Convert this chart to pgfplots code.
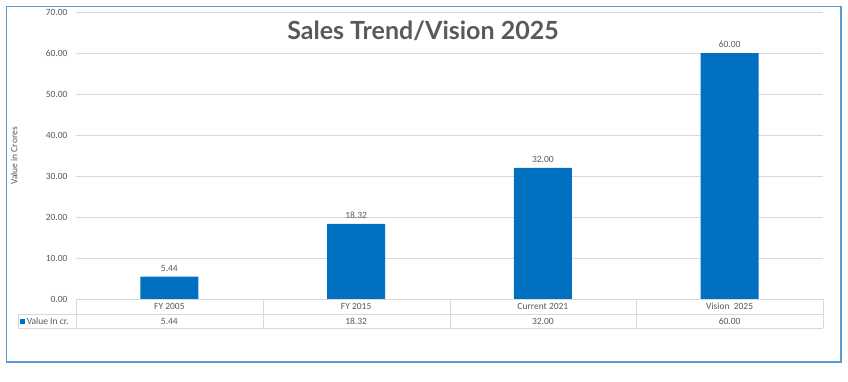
\documentclass[border=0pt]{standalone}
\usepackage{pgfplots}
\pgfplotsset{compat=1.18}
\usepackage{fontspec}
\setmainfont{Carlito}
\newfontfamily\titlefont{Lato}
\definecolor{barblue}{HTML}{0070C0}
\definecolor{frameblue}{HTML}{5B9BD5}
\definecolor{gridgray}{HTML}{D9D9D9}
\definecolor{txtgray}{HTML}{595959}
\newcommand{\sm}{\fontsize{9.5}{11}\selectfont}
\begin{document}
\begin{tikzpicture}[x=1pt,y=1pt]
\path[use as bounding box] (0,0) rectangle (848,381);
\draw[frameblue, line width=1.5pt] (6.5,374.5) rectangle (841,19);
\begin{axis}[
  at={(76pt,82pt)}, anchor=south west,
  scale only axis, width=747pt, height=287pt,
  xmin=-0.5, xmax=3.5, ymin=0, ymax=70,
  ytick={0,10,...,70},
  xtick={0,1,2,3},
  xticklabels={FY 2005, FY 2015, Current 2021, Vision\ \ 2025},
  xticklabel style={anchor=center, yshift=-7.5pt, font=\sm, text=txtgray},
  yticklabel style={font=\sm, text=txtgray, xshift=-5pt},
  /pgf/number format/assume math mode=true,
  yticklabel={\pgfmathprintnumber[fixed,fixed zerofill,precision=2]{\tick}},
  major tick length=0pt,
  axis line style={draw=none},
  ymajorgrids, grid style={gridgray, line width=0.8pt},
  clip=false,
]
\addplot[ybar, bar width=58pt, fill=barblue, draw=none,
  nodes near coords={\pgfmathprintnumber[fixed,fixed zerofill,precision=2,assume math mode=true]{\pgfplotspointmeta}},
  every node near coord/.append style={yshift=2pt, font=\sm, text=txtgray}]
  coordinates {(0,5.44) (1,18.32) (2,32.00) (3,60.00)};
\addplot[draw=none, mark=none, point meta=explicit,
  nodes near coords={\pgfmathprintnumber[fixed,fixed zerofill,precision=2,assume math mode=true]{\pgfplotspointmeta}},
  every node near coord/.style={anchor=center, yshift=-22pt, font=\sm, text=txtgray}]
  coordinates {(0,0)[5.44] (1,0)[18.32] (2,0)[32.00] (3,0)[60.00]};
\end{axis}
% data table grid
\begin{scope}[gridgray, line width=0.8pt]
\draw (76,82) -- (823,82);
\draw (18,67) -- (823,67);
\draw (18,53) -- (823,53);
\foreach \xx in {76,263,450,636,823} \draw (\xx,82) -- (\xx,53);
\draw (18,67) -- (18,53);
\end{scope}
\node[anchor=west, inner sep=0pt, font=\sm, text=txtgray] at (20,60) {\textcolor{barblue}{\rule{5pt}{5pt}}\,Value In cr.};
\node[rotate=90, font=\sm, text=txtgray] at (14,225) {Value in Crores};
\node[font=\titlefont\bfseries\fontsize{25}{28}\selectfont, text=txtgray] at (423,350) {Sales Trend/Vision 2025};
\end{tikzpicture}
\end{document}
